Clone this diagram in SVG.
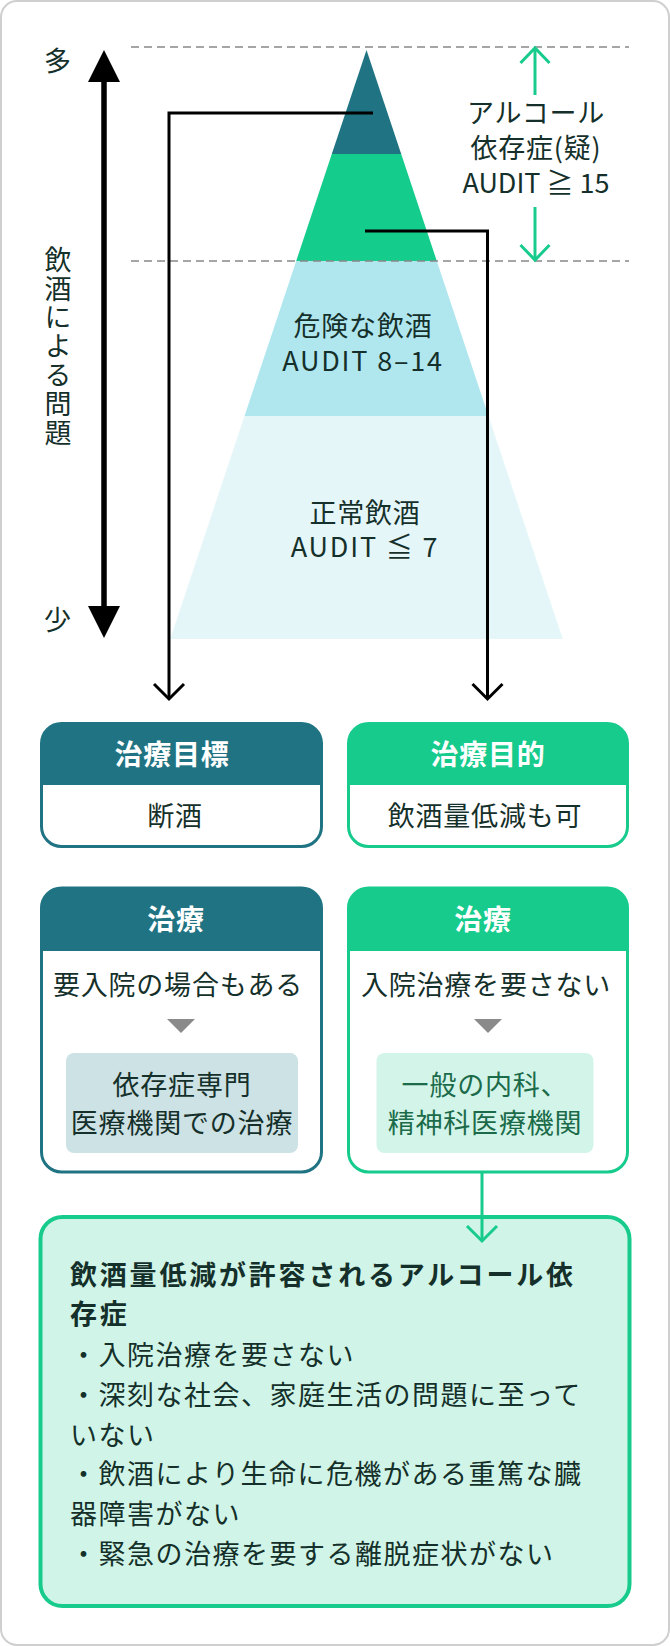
<svg xmlns="http://www.w3.org/2000/svg" width="670" height="1646" viewBox="0 0 670 1646">
<style>
.t{font-family:"Noto Sans CJK JP","Noto Sans",sans-serif;font-size:27px;fill:#15302a;letter-spacing:0.8px}
.c{text-anchor:middle}
.h{font-weight:bold;fill:#ffffff;font-size:28px}
.b{font-weight:bold}
.g{fill:#1b6b4a}
.au{letter-spacing:1.8px}
.blk{fill:none;stroke:#000;stroke-width:3}
.grn{fill:none;stroke:#17cb8d;stroke-width:3}
.dash{stroke:#888;stroke-width:1.5;stroke-dasharray:8 5}
</style>
<rect x="1" y="1" width="668" height="1644" rx="16" fill="#fff" stroke="#cfcfcf" stroke-width="2"/>

<g id="pyramid">
<polygon points="366.5,50 401.2,154 331.8,154" fill="#1f7382"/>
<polygon points="331.8,154 401.2,154 436.8,261 296.2,261" fill="#14cc8c"/>
<polygon points="296.2,261 436.8,261 488.5,416 244.5,416" fill="#b0e7ef"/>
<polygon points="244.5,416 488.5,416 562.8,639 170.2,639" fill="#e5f6f9"/>
<text class="t c" x="363" y="336">危険な飲酒</text>
<text class="t c au" x="363" y="371">AUDIT 8–14</text>
<text class="t c" x="365" y="523">正常飲酒</text>
<text class="t c au" x="365" y="557">AUDIT ≦ 7</text>
</g>

<g id="axis">
<line class="dash" x1="131" y1="47" x2="629" y2="47"/>
<line class="dash" x1="131" y1="261" x2="629" y2="261"/>
<line x1="104" y1="80" x2="104" y2="608" stroke="#000" stroke-width="5.5"/>
<polygon points="104,50 88,82 120,82" fill="#000"/>
<polygon points="104,638 88,606 120,606" fill="#000"/>
<text class="t c" x="58" y="71">多</text>
<text class="t c" x="58" y="630">少</text>
<text class="t" x="58" y="246" font-size="26" writing-mode="vertical-rl" style="letter-spacing:1.8px">飲酒による問題</text>
</g>

<g id="dependence-label">
<line class="grn" x1="535" y1="48" x2="535" y2="95"/>
<polyline class="grn" points="520.5,63 535,48 549.5,63"/>
<line class="grn" x1="535" y1="207" x2="535" y2="260"/>
<polyline class="grn" points="520.5,245 535,260 549.5,245"/>
<text class="t c" x="536" y="123">アルコール</text>
<text class="t c" x="536" y="158">依存症(疑)</text>
<text class="t c" x="536" y="193" style="letter-spacing:0px">AUDIT ≧ 15</text>
</g>

<g id="goal-left">
<path d="M41.5,785 V743.5 A20,20 0 0 1 61.5,723.5 H301.5 A20,20 0 0 1 321.5,743.5 V785 Z" fill="#1f7382"/>
<rect x="41.5" y="723.5" width="280" height="123" rx="20" fill="none" stroke="#1f7382" stroke-width="3"/>
<text class="t c h" x="172" y="765">治療目標</text>
<text class="t c" x="175" y="826">断酒</text>
</g>

<g id="goal-right">
<path d="M348.5,785 V743.5 A20,20 0 0 1 368.5,723.5 H607.5 A20,20 0 0 1 627.5,743.5 V785 Z" fill="#17cb8d"/>
<rect x="348.5" y="723.5" width="279" height="123" rx="20" fill="none" stroke="#17cb8d" stroke-width="3"/>
<text class="t c h" x="488" y="765">治療目的</text>
<text class="t c" x="485" y="826">飲酒量低減も可</text>
</g>

<g id="treatment-left">
<path d="M41.5,951 V908 A20,20 0 0 1 61.5,888 H301.5 A20,20 0 0 1 321.5,908 V951 Z" fill="#1f7382"/>
<rect x="41.5" y="888" width="280" height="284" rx="20" fill="none" stroke="#1f7382" stroke-width="3"/>
<text class="t c h" x="176" y="930">治療</text>
<text class="t c" x="178" y="995">要入院の場合もある</text>
<polygon points="167,1019 195,1019 181,1033" fill="#8a8a8a"/>
<rect x="66" y="1053" width="232" height="100" rx="8" fill="#cde2e4"/>
<text class="t c" x="182" y="1095">依存症専門</text>
<text class="t c" x="182" y="1133">医療機関での治療</text>
</g>

<g id="treatment-right">
<path d="M348.5,951 V908 A20,20 0 0 1 368.5,888 H607.5 A20,20 0 0 1 627.5,908 V951 Z" fill="#17cb8d"/>
<rect x="348.5" y="888" width="279" height="284" rx="20" fill="none" stroke="#17cb8d" stroke-width="3"/>
<text class="t c h" x="483" y="930">治療</text>
<text class="t c" x="486" y="995">入院治療を要さない</text>
<polygon points="474,1019 502,1019 488,1033" fill="#8a8a8a"/>
<rect x="376.5" y="1053" width="217" height="100" rx="8" fill="#d3f5e9"/>
<text class="t c g" x="485" y="1095">一般の内科、</text>
<text class="t c g" x="485" y="1133">精神科医療機関</text>
</g>

<g id="criteria">
<rect x="40.5" y="1217" width="589" height="389" rx="22" fill="#d0f5e8" stroke="#17cb8d" stroke-width="4"/>
<text class="t b" x="70" y="1285" style="letter-spacing:2.8px">飲酒量低減が許容されるアルコール依</text>
<text class="t b" x="70" y="1324" style="letter-spacing:2.8px">存症</text>
<text class="t" x="70" y="1365" style="letter-spacing:1.5px">・入院治療を要さない</text>
<text class="t" x="70" y="1405" style="letter-spacing:1.5px">・深刻な社会、家庭生活の問題に至って</text>
<text class="t" x="70" y="1445" style="letter-spacing:1.5px">いない</text>
<text class="t" x="70" y="1484" style="letter-spacing:1.5px">・飲酒により生命に危機がある重篤な臓</text>
<text class="t" x="70" y="1524" style="letter-spacing:1.5px">器障害がない</text>
<text class="t" x="70" y="1564" style="letter-spacing:1.5px">・緊急の治療を要する離脱症状がない</text>
</g>

<g id="connectors">
<polyline class="blk" points="373,113 169,113 169,697"/>
<polyline class="blk" points="154,684 169,699 184,684"/>
<polyline class="blk" points="365,231 487.5,231 487.5,697"/>
<polyline class="blk" points="472.5,684 487.5,699 502.5,684"/>
<line class="grn" x1="482" y1="1173" x2="482" y2="1241"/>
<polyline class="grn" points="467,1226 482,1241 497,1226"/>
</g>
</svg>
